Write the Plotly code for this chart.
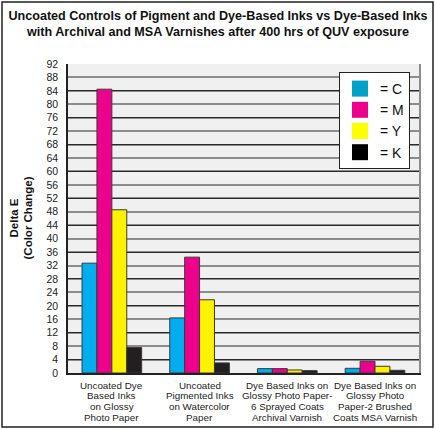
import plotly.graph_objects as go

# ---------------- data ----------------
categories = ["Uncoated Dye", "Uncoated Pig", "Archival Varnish", "MSA Varnish"]
category_label_lines = [
    ["Uncoated Dye", "Based Inks", "on Glossy", "Photo Paper"],
    ["Uncoated", "Pigmented Inks", "on Watercolor", "Paper"],
    ["Dye Based Inks on", "Glossy Photo Paper-", "6 Sprayed Coats", "Archival Varnish"],
    ["Dye Based Inks on", "Glossy Photo", "Paper-2 Brushed", "Coats MSA Varnish"],
]
series_names = ["C", "M", "Y", "K"]
values_C = [32.7, 16.4, 1.3, 1.4]
values_M = [84.5, 34.5, 1.3, 3.5]
values_Y = [48.6, 21.8, 0.9, 2.0]
values_K = [7.6, 3.0, 0.7, 0.8]
series_values = [values_C, values_M, values_Y, values_K]
series_colors = ["#00aeef", "#ec008c", "#fff200", "#231f20"]
legend_colors = ["#00a0c8", "#ec008c", "#ffff00", "#000000"]
y_ticks = list(range(0, 93, 4))

# ---------------- layout constants ----------------
W, H = 436, 429
ML, MR, MT, MB = 68, 17, 64, 56
PW, PH = W - ML - MR, H - MT - MB
FONT = "Liberation Sans, Arial, sans-serif"


def px_x(p):
    return (p - ML) / PW


def px_y(p):
    return (H - MB - p) / PH


fig = go.Figure()
for name, vals, col in zip(series_names, series_values, series_colors):
    fig.add_trace(go.Bar(
        x=categories, y=vals, name=name, showlegend=False,
        marker=dict(color=col, line=dict(color="#3a3a3a", width=1)),
        yaxis="y",
    ))
# legend swatches
for name, col in zip(series_names, legend_colors):
    fig.add_trace(go.Scatter(
        x=[None], y=[None], mode="markers", name="= " + name,
        marker=dict(symbol="square", size=16, color=col, line=dict(width=0)),
        showlegend=True, yaxis="y",
    ))

annotations = []
for cat, lines in zip(categories, category_label_lines):
    for i, ln in enumerate(lines):
        annotations.append(dict(
            x=cat, xref="x", y=0, yref="paper", text=ln, showarrow=False,
            yanchor="middle", xanchor="center", yshift=-(12 + i * 10.7),
            font=dict(family=FONT, size=9.8, color="#222"),
        ))
annotations.append(dict(
    x=px_x(21), xref="paper", y=0.5, yref="paper",
    text="<b>Delta E<br>(Color Change)</b>", textangle=-90, showarrow=False,
    font=dict(family=FONT, size=11.5, color="#111"), xanchor="center", yanchor="middle",
))

fig.update_layout(
    width=W, height=H,
    margin=dict(l=ML, r=MR, t=MT, b=MB, autoexpand=False),
    paper_bgcolor="white", plot_bgcolor="#f0f0f0",
    barmode="group", bargap=0.32, bargroupgap=0,
    title=dict(
        text="<b>Uncoated Controls of Pigment and Dye-Based Inks vs Dye-Based Inks<br>"
             "with Archival and MSA Varnishes after 400 hrs of QUV exposure</b>",
        x=0.5, xref="container", xanchor="center",
        y=1 - 20 / H, yref="container", yanchor="top",
        font=dict(family=FONT, size=12.6, color="#111"),
    ),
    xaxis=dict(
        showticklabels=False, showgrid=False, showline=True, linecolor="#222",
        linewidth=1.5, ticks="", zeroline=False, fixedrange=True,
    ),
    yaxis=dict(
        range=[0, 92], tickvals=y_ticks, ticktext=[str(v) for v in y_ticks],
        showgrid=True, gridcolor="#8c8c8c", gridwidth=1.5,
        showline=True, linecolor="#222", linewidth=1.5, zeroline=False,
        ticks="", ticklabelstandoff=6,
        tickfont=dict(family=FONT, size=10.5, color="#222"),
    ),
    yaxis2=dict(
        range=[0, 92], overlaying="y", side="right",
        tickvals=[v for v in y_ticks if v % 8 == 4],
        showticklabels=False, showgrid=True, gridcolor="#2a2a2a", gridwidth=1.2,
        showline=True, linecolor="#8c8c8c", linewidth=1.5, zeroline=False, ticks="",
    ),
    legend=dict(
        x=px_x(410), xanchor="right", y=px_y(72), yanchor="top",
        bgcolor="white", bordercolor="#222", borderwidth=1,
        font=dict(family=FONT, size=14, color="#111"),
        itemwidth=30, tracegroupgap=0, itemsizing="trace",
    ),
    annotations=annotations,
    shapes=[dict(
        type="rect", xref="paper", yref="paper",
        x0=px_x(2), x1=px_x(433), y0=px_y(427), y1=px_y(2),
        line=dict(color="#222", width=1.5), fillcolor="rgba(0,0,0,0)", layer="above",
    )],
)
# dummy trace to activate yaxis2
fig.add_trace(go.Scatter(x=[None], y=[None], yaxis="y2", showlegend=False, hoverinfo="skip"))

fig.write_html(
    "out.html",
    config={"displayModeBar": False},
    post_script="document.body.style.margin='0';document.body.style.overflow='hidden';",
)
